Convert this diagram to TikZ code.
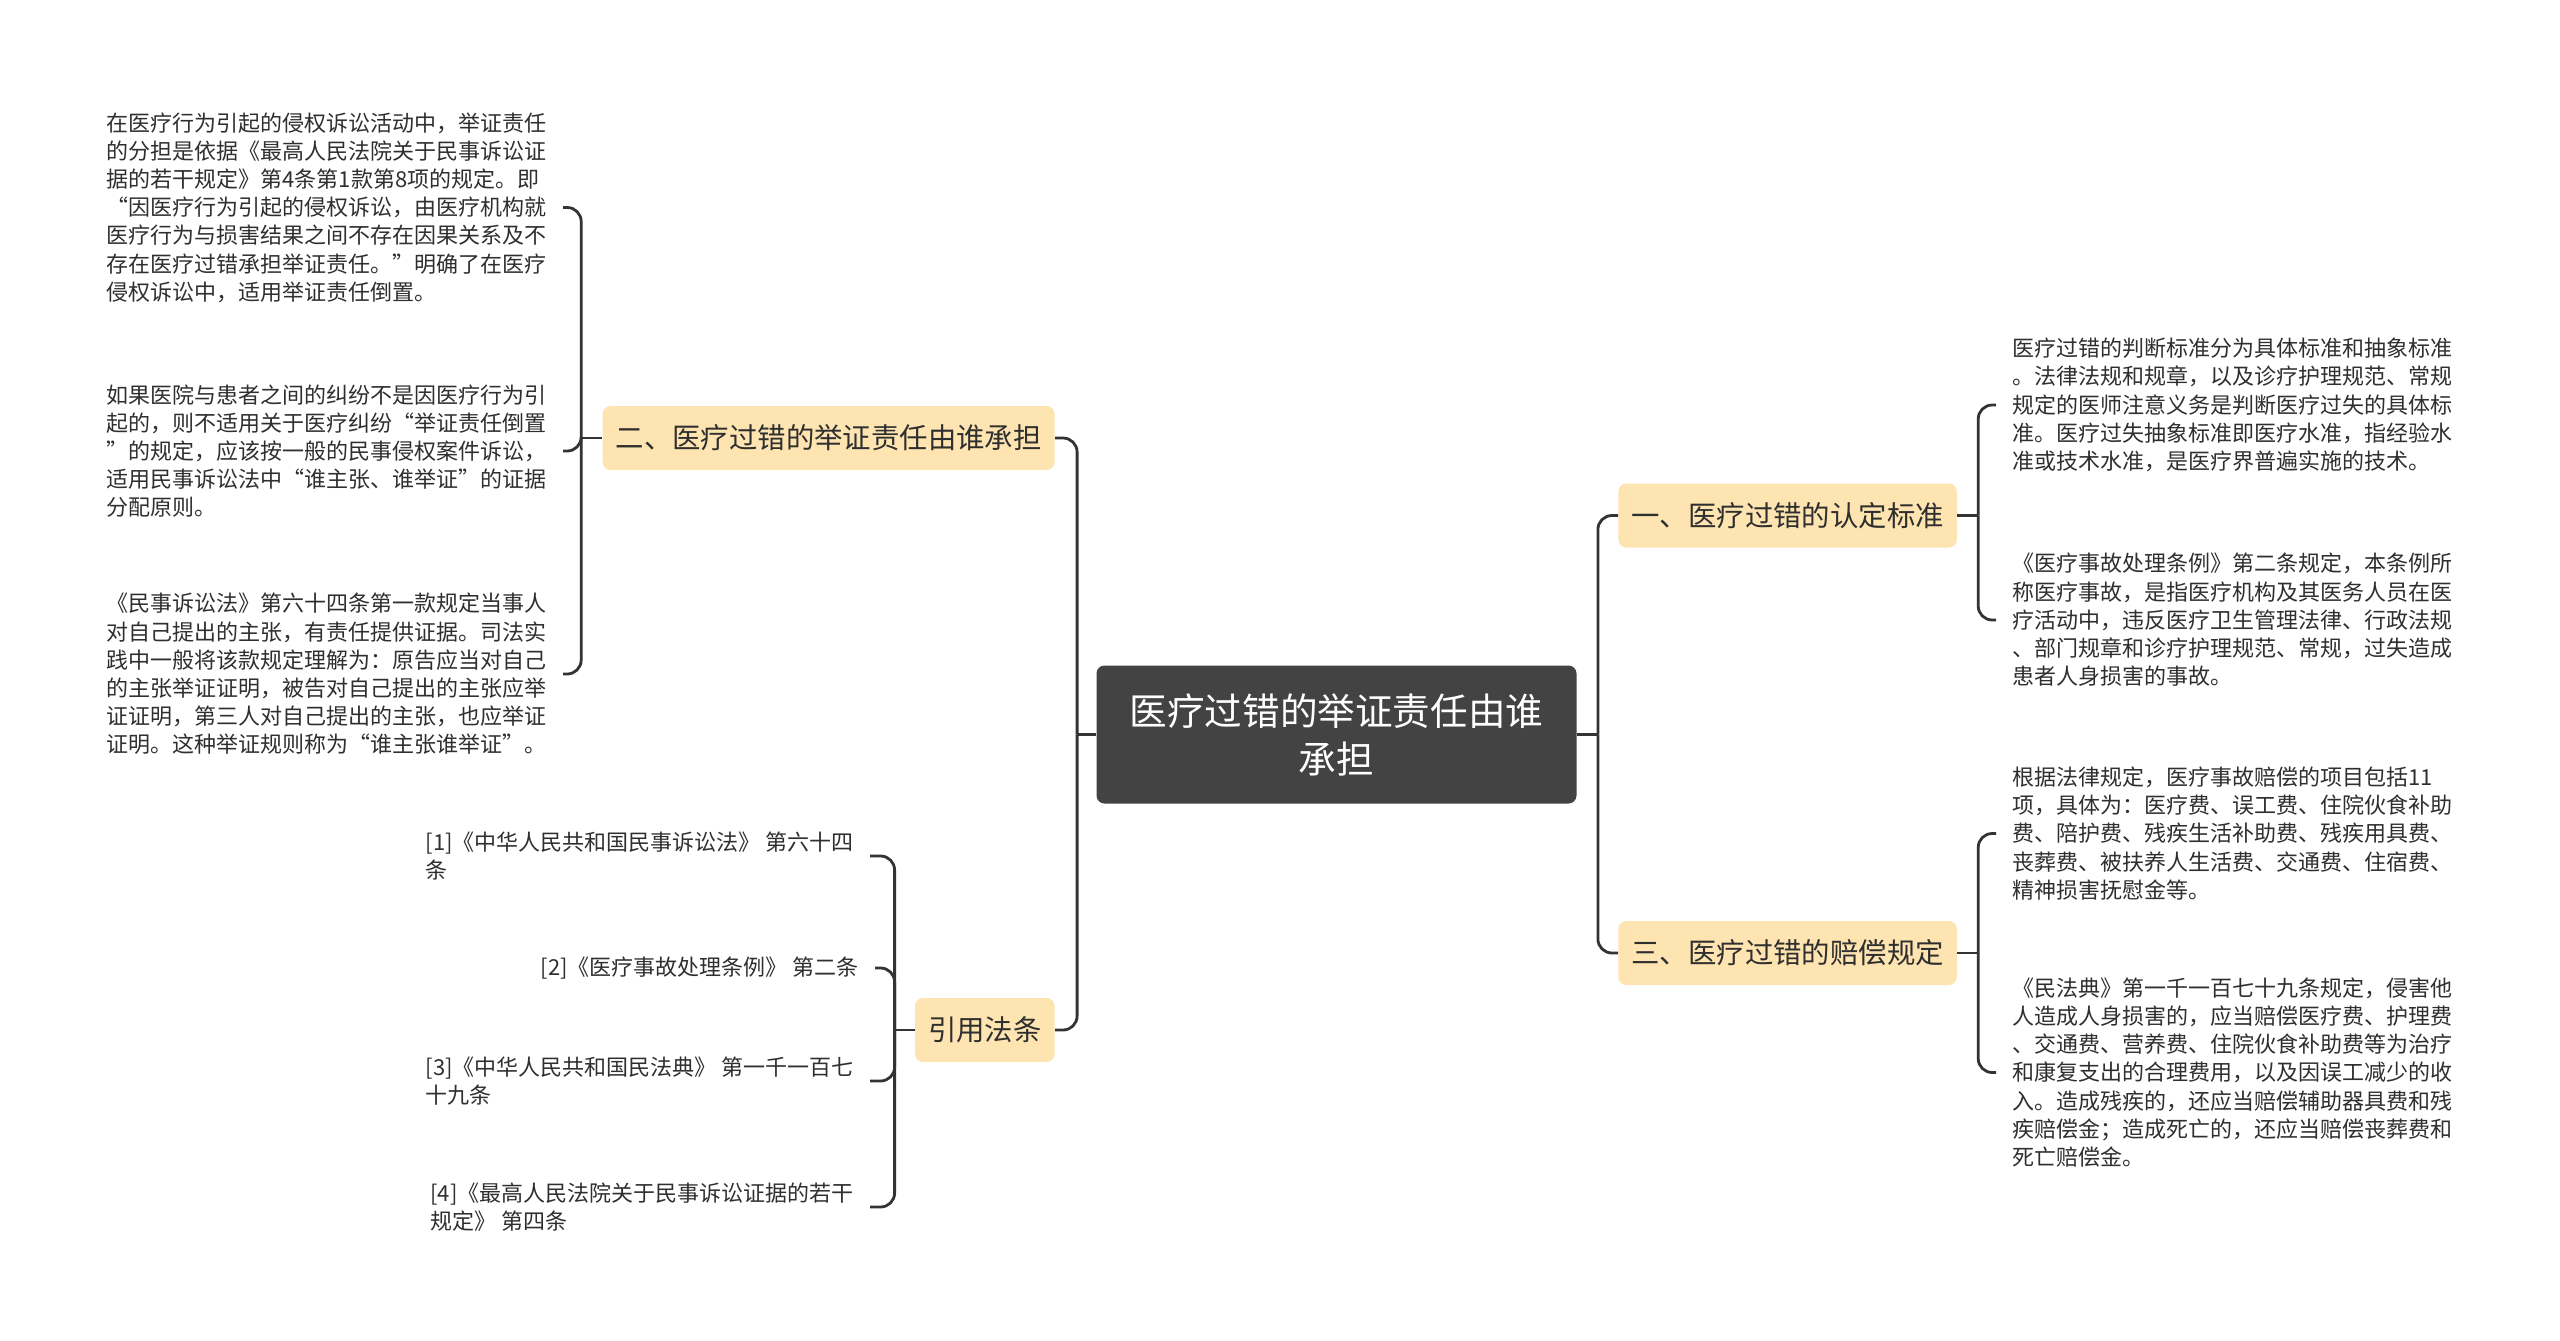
\documentclass[tikz,border=0pt]{standalone}
\usepackage{fontspec}
\setmainfont{Noto Sans CJK SC}
\usetikzlibrary{positioning}
\definecolor{MapRoot}{HTML}{434343}
\definecolor{MapTopic}{HTML}{FDE4B1}
\definecolor{MapLine}{HTML}{333333}
\definecolor{MapText}{HTML}{2F2F2F}

\begin{document}
\begin{tikzpicture}[x=0.5pt,y=-0.5pt,
    maproot/.style={fill=MapRoot,rounded corners=4pt,text=white,align=center,
      font=\fontsize{18.8}{24}\selectfont,text width=210pt,
      minimum width=240pt,minimum height=69pt},
    maptopic/.style={fill=MapTopic,rounded corners=4pt,text=MapText,
      font=\fontsize{14.2}{17}\selectfont,inner xsep=6.5pt,minimum height=32pt},
    mapleaf/.style={text=MapText,align=left,inner xsep=8pt,
      font=\fontsize{11}{14.1}\selectfont},
    maplink/.style={MapLine,line width=1.4pt,rounded corners=7pt}]
  \fill[white] (0,0) rectangle (2560,1340);

  % centre and main topics
  \node[maproot] (root) at (1336.5,734.5) {医疗过错的举证责任由谁\\承担};
  \node[maptopic,anchor=east] (t2) at (1055,438) {二、医疗过错的举证责任由谁承担};
  \node[maptopic,anchor=east] (tref) at (1055,1030) {引用法条};
  \node[maptopic,anchor=west] (t1) at (1618,515.5) {一、医疗过错的认定标准};
  \node[maptopic,anchor=west] (t3) at (1618,953) {三、医疗过错的赔偿规定};

  % left texts
  \node[mapleaf,anchor=east,text width=220pt] (l1) at (563,207.5)
    {在医疗行为引起的侵权诉讼活动中，举证责任\\
     的分担是依据《最高人民法院关于民事诉讼证\\
     据的若干规定》第4条第1款第8项的规定。即\\
     “因医疗行为引起的侵权诉讼，由医疗机构就\\
     医疗行为与损害结果之间不存在因果关系及不\\
     存在医疗过错承担举证责任。”明确了在医疗\\
     侵权诉讼中，适用举证责任倒置。};
  \node[mapleaf,anchor=east,text width=220pt] (l2) at (563,451)
    {如果医院与患者之间的纠纷不是因医疗行为引\\
     起的，则不适用关于医疗纠纷“举证责任倒置\\
     ”的规定，应该按一般的民事侵权案件诉讼，\\
     适用民事诉讼法中“谁主张、谁举证”的证据\\
     分配原则。};
  \node[mapleaf,anchor=east,text width=220pt] (l3) at (563,674)
    {《民事诉讼法》第六十四条第一款规定当事人\\
     对自己提出的主张，有责任提供证据。司法实\\
     践中一般将该款规定理解为：原告应当对自己\\
     的主张举证证明，被告对自己提出的主张应举\\
     证证明，第三人对自己提出的主张，也应举证\\
     证明。这种举证规则称为“谁主张谁举证”。};

  % references
  \node[mapleaf,anchor=east] (ref1) at (870,856)
    {[1]《中华人民共和国民事诉讼法》 第六十四\\条};
  \node[mapleaf,anchor=east] (ref2) at (875,968)
    {[2]《医疗事故处理条例》 第二条};
  \node[mapleaf,anchor=east] (ref3) at (870,1081)
    {[3]《中华人民共和国民法典》 第一千一百七\\十九条};
  \node[mapleaf,anchor=east] (ref4) at (870,1207)
    {[4]《最高人民法院关于民事诉讼证据的若干\\规定》 第四条};

  % right texts
  \node[mapleaf,anchor=west,text width=220pt] (r1) at (1996,405)
    {医疗过错的判断标准分为具体标准和抽象标准\\
     。法律法规和规章，以及诊疗护理规范、常规\\
     规定的医师注意义务是判断医疗过失的具体标\\
     准。医疗过失抽象标准即医疗水准，指经验水\\
     准或技术水准，是医疗界普遍实施的技术。};
  \node[mapleaf,anchor=west,text width=220pt] (r2) at (1996,620)
    {《医疗事故处理条例》第二条规定，本条例所\\
     称医疗事故，是指医疗机构及其医务人员在医\\
     疗活动中，违反医疗卫生管理法律、行政法规\\
     、部门规章和诊疗护理规范、常规，过失造成\\
     患者人身损害的事故。};
  \node[mapleaf,anchor=west,text width=220pt] (r3) at (1996,833.5)
    {根据法律规定，医疗事故赔偿的项目包括11\\
     项，具体为：医疗费、误工费、住院伙食补助\\
     费、陪护费、残疾生活补助费、残疾用具费、\\
     丧葬费、被扶养人生活费、交通费、住宿费、\\
     精神损害抚慰金等。};
  \node[mapleaf,anchor=west,text width=220pt] (r4) at (1996,1072.5)
    {《民法典》第一千一百七十九条规定，侵害他\\
     人造成人身损害的，应当赔偿医疗费、护理费\\
     、交通费、营养费、住院伙食补助费等为治疗\\
     和康复支出的合理费用，以及因误工减少的收\\
     入。造成残疾的，还应当赔偿辅助器具费和残\\
     疾赔偿金；造成死亡的，还应当赔偿丧葬费和\\
     死亡赔偿金。};

  % bus points
  \coordinate[left=9.5pt of root.west] (lbus);
  \coordinate[right=10.5pt of root.east] (rbus);
  \coordinate[left=10.5pt of t2.west] (t2bus);
  \coordinate[left=10pt of tref.west] (refbus);
  \coordinate[right=10.5pt of t1.east] (t1bus);
  \coordinate[right=10.5pt of t3.east] (t3bus);

  % connectors
  \draw[maplink] (root.west) -- (lbus);
  \draw[maplink] (lbus) |- (t2.east);
  \draw[maplink] (lbus) |- (tref.east);
  \draw[maplink] (root.east) -- (rbus);
  \draw[maplink] (rbus) |- (t1.west);
  \draw[maplink] (rbus) |- (t3.west);

  \draw[maplink] (t2.west) -- (t2bus);
  \foreach \n in {l1,l2,l3}
    \draw[maplink] (t2bus) |- (\n.east);
  \draw[maplink] (tref.west) -- (refbus);
  \foreach \n in {ref1,ref2,ref3,ref4}
    \draw[maplink] (refbus) |- (\n.east);
  \draw[maplink] (t1.east) -- (t1bus);
  \foreach \n in {r1,r2}
    \draw[maplink] (t1bus) |- (\n.west);
  \draw[maplink] (t3.east) -- (t3bus);
  \foreach \n in {r3,r4}
    \draw[maplink] (t3bus) |- (\n.west);
\end{tikzpicture}
\end{document}
